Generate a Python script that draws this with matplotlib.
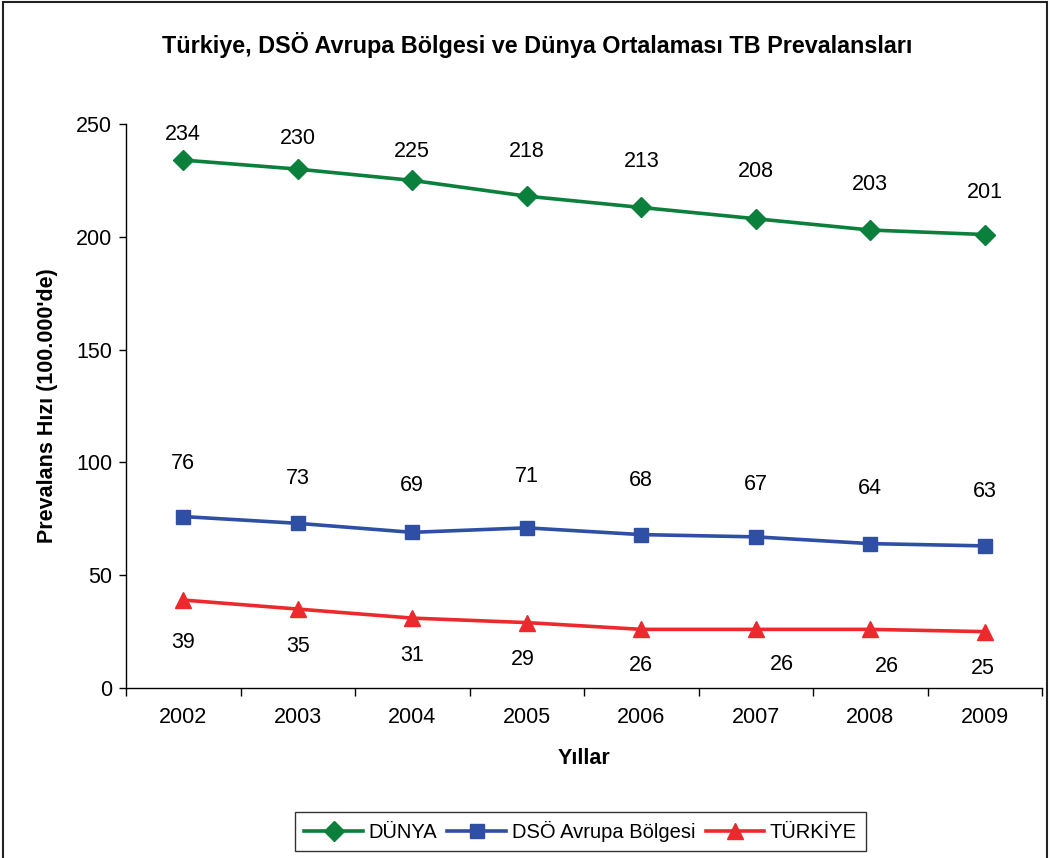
import matplotlib.pyplot as plt
from matplotlib.patches import Rectangle
import numpy as np

plt.rcParams['font.family'] = ['Liberation Sans', 'DejaVu Sans']

years = ["2002", "2003", "2004", "2005", "2006", "2007", "2008", "2009"]
dunya = [234, 230, 225, 218, 213, 208, 203, 201]
dso = [76, 73, 69, 71, 68, 67, 64, 63]
turkiye = [39, 35, 31, 29, 26, 26, 26, 25]

# label offsets (pixels) as placed in the original
dunya_off = [26, 31, 29, 45, 46, 47, 46, 42]
dso_off = [53, 45, 47, 51, 54, 52, 55, 54]
tr_off = [-42, -37, -37, -37, -36, -35, -37, -37]
tr_dx = [0, 0, 0, -4, 0, 26, 17, -2]

fig = plt.figure(figsize=(10.5, 8.58), dpi=100)
ax = fig.add_axes([0.12, 0.1981, 0.8724, 0.6574])

x = np.arange(len(years))
green = "#0b7f3c"
blue = "#2e4fa4"
red = "#ec2a2e"

ax.plot(x, dunya, color=green, lw=2.6, marker="D", ms=10, label="DÜNYA")
ax.plot(x, dso, color=blue, lw=2.6, marker="s", ms=10, label="DSÖ Avrupa Bölgesi")
ax.plot(x, turkiye, color=red, lw=2.6, marker="^", ms=11.5, label="TÜRKİYE")

px = 72 / 100
fs = 15.5
for i in range(len(years)):
    ax.annotate(str(dunya[i]), (x[i], dunya[i]), xytext=(0, dunya_off[i] * px),
                textcoords="offset points", ha="center", va="center", fontsize=fs)
    ax.annotate(str(dso[i]), (x[i], dso[i]), xytext=(0, dso_off[i] * px),
                textcoords="offset points", ha="center", va="center", fontsize=fs)
    ax.annotate(str(turkiye[i]), (x[i], turkiye[i]), xytext=(tr_dx[i] * px, tr_off[i] * px),
                textcoords="offset points", ha="center", va="center", fontsize=fs)

ax.set_xlim(-0.5, len(years) - 0.5)
ax.set_ylim(0, 250)
ax.set_yticks([0, 50, 100, 150, 200, 250])
ax.tick_params(axis="y", labelsize=fs, length=5, width=1, pad=5)

ax.set_xticks(np.arange(-0.5, len(years), 1))
ax.set_xticklabels([])
ax.tick_params(axis="x", which="major", length=6, width=1)
ax.set_xticks(x, minor=True)
ax.set_xticklabels(years, minor=True)
ax.tick_params(axis="x", which="minor", length=0, labelsize=fs, pad=14)

for s in ["top", "right"]:
    ax.spines[s].set_visible(False)
ax.spines["left"].set_linewidth(1)
ax.spines["bottom"].set_linewidth(1)

ax.set_xlabel("Yıllar", fontsize=fs, fontweight="bold", labelpad=14)
ax.set_ylabel("Prevalans Hızı (100.000'de)", fontsize=fs, fontweight="bold", labelpad=13)

fig.text(0.512, 0.947, "Türkiye, DSÖ Avrupa Bölgesi ve Dünya Ortalaması TB Prevalansları",
         ha="center", va="center", fontsize=16.8, fontweight="bold")

leg = fig.legend(loc="center", bbox_to_anchor=(0.553, 0.031), ncol=3, fontsize=14.5,
                 frameon=True, fancybox=False, edgecolor="black", handlelength=2.9,
                 columnspacing=0.5, handletextpad=0.3, borderpad=0.45)
leg.get_frame().set_linewidth(1)

fig.patches.append(Rectangle((0.003, -0.05), 0.994, 1.048, transform=fig.transFigure,
                             fill=False, edgecolor="#222222", lw=1.5))

fig.savefig("out.png", dpi=100)
